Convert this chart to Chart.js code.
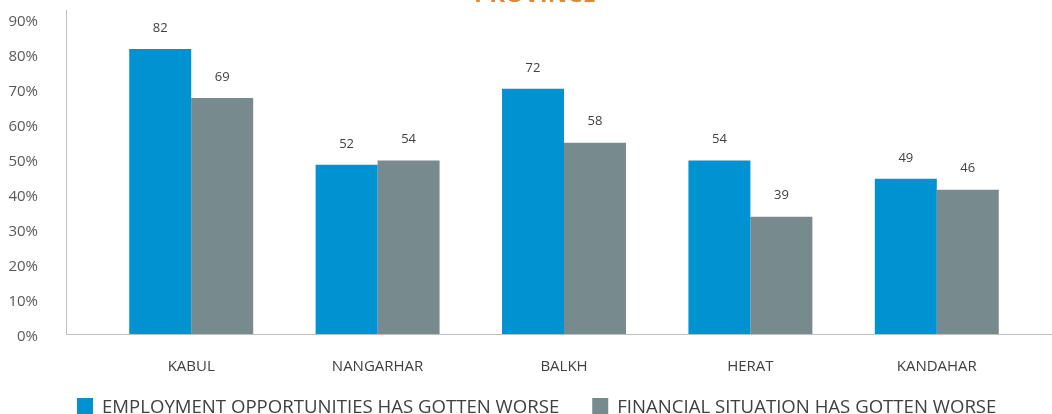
<!DOCTYPE html>
<html>
<head>
<meta charset="utf-8">
<script src="https://cdn.jsdelivr.net/npm/chart.js@4.4.1/dist/chart.umd.min.js"></script>
<style>
  html, body { margin: 0; padding: 0; background: #fff; }
  #wrap { width: 1052px; height: 414px; position: relative; }
</style>
</head>
<body>
<div id="wrap"><canvas id="chart"></canvas></div>
<script>
// Data
const provinces = ["KABUL", "NANGARHAR", "BALKH", "HERAT", "KANDAHAR"];
const employmentBars = [81.4, 48.3, 70, 49.5, 44.3];
const financialBars = [67.4, 49.5, 54.6, 33.5, 41.2];
const employmentLabels = [82, 52, 72, 54, 49];
const financialLabels = [69, 54, 58, 39, 46];
const seriesNames = ["EMPLOYMENT OPPORTUNITIES HAS GOTTEN WORSE", "FINANCIAL SITUATION HAS GOTTEN WORSE"];
const yTicks = [0, 10, 20, 30, 40, 50, 60, 70, 80, 90];

const BLUE = "#0092D1";
const GREY = "#778A8E";
const TEXT = "#404040";

// axis lines, value labels, legend and the clipped title
const extras = {
  id: "extras",
  afterDatasetsDraw(chart) {
    const ctx = chart.ctx;
    const y = chart.scales.y;
    const base = Math.round(y.getPixelForValue(0)) + 0.5;
    ctx.save();
    ctx.strokeStyle = "#BFBFBF";
    ctx.lineWidth = 1;
    ctx.beginPath();
    ctx.moveTo(66.5, 10);
    ctx.lineTo(66.5, base);
    ctx.lineTo(1052, base);
    ctx.stroke();

    // value labels above bars
    const labelSets = [employmentLabels, financialLabels];
    ctx.font = "13px 'Open Sans'";
    ctx.fillStyle = TEXT;
    ctx.textAlign = "center";
    ctx.textBaseline = "middle";
    chart.data.datasets.forEach((ds, di) => {
      chart.getDatasetMeta(di).data.forEach((bar, i) => {
        ctx.fillText(String(labelSets[di][i]), bar.x, bar.y - 21);
      });
    });

    // legend
    ctx.font = "18.6px 'Open Sans'";
    ctx.textAlign = "left";
    ctx.textBaseline = "alphabetic";
    let lx = 77;
    chart.data.datasets.forEach((ds) => {
      ctx.fillStyle = ds.backgroundColor;
      ctx.fillRect(lx, 398, 16, 16);
      ctx.fillStyle = TEXT;
      ctx.fillText(ds.label, lx + 25, 413);
      lx += 25 + ctx.measureText(ds.label).width + 33;
    });

    // title, cut off by the top edge
    ctx.font = "bold 24px 'Open Sans'";
    ctx.fillStyle = "#D68A3A";
    ctx.textAlign = "center";
    ctx.textBaseline = "bottom";
    ctx.fillText("PROVINCE", 535, 7);
    ctx.restore();
  }
};

new Chart(document.getElementById("chart"), {
  type: "bar",
  data: {
    labels: provinces,
    datasets: [
      { label: seriesNames[0], data: employmentBars, backgroundColor: BLUE },
      { label: seriesNames[1], data: financialBars, backgroundColor: GREY }
    ]
  },
  options: {
    responsive: true,
    maintainAspectRatio: false,
    animation: false,
    layout: { padding: { left: 0, right: 22, top: 10, bottom: 0 } },
    datasets: {
      bar: { categoryPercentage: 0.665, barPercentage: 1.0 }
    },
    plugins: {
      legend: { display: false },
      tooltip: { enabled: false }
    },
    scales: {
      x: {
        grid: { display: false },
        border: { display: false },
        ticks: { color: TEXT, padding: 16, font: { family: "'Open Sans'", size: 15 } },
        afterFit: (s) => { s.height = 80; }
      },
      y: {
        min: 0,
        max: 92.5,
        grid: { display: false },
        border: { display: false },
        afterBuildTicks: (s) => { s.ticks = yTicks.map(v => ({ value: v })); },
        ticks: {
          color: "#595959",
          padding: 52,
          labelOffset: 3,
          font: { family: "'Open Sans'", size: 15 },
          callback: (v) => v + "%"
        },
        afterFit: (s) => {
          s.width = 98;
          s.paddingTop = 0;
          s.paddingBottom = 0;
        }
      }
    }
  },
  plugins: [extras]
});
</script>
</body>
</html>
